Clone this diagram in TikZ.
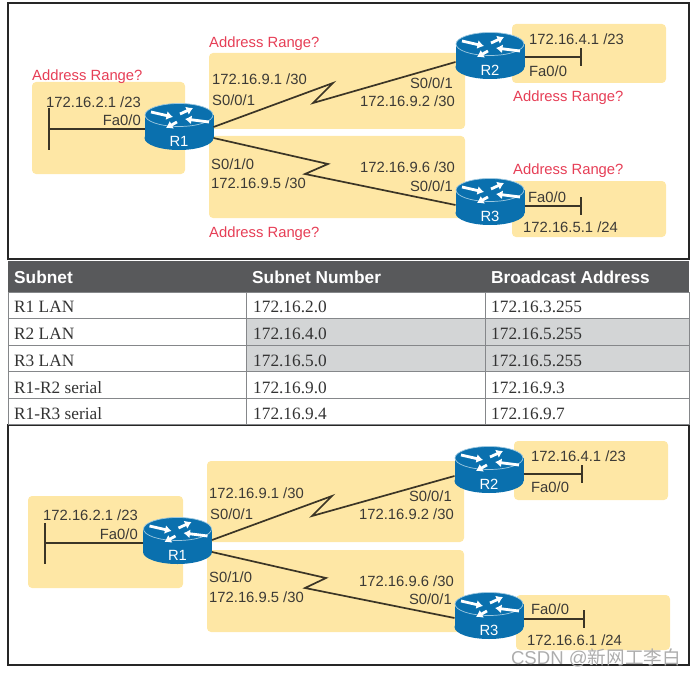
\documentclass[tikz,border=0pt]{standalone}
\usepackage{fontspec}
\setmainfont{Liberation Serif}
\setsansfont{Liberation Sans}
\newfontfamily\cjkfont{Noto Sans CJK SC}
\usepackage{xcolor}
\usepackage{tikz}
\usetikzlibrary{positioning}
\usetikzlibrary{arrows.meta}
\definecolor{panelyellow}{HTML}{FEE7A5}
\definecolor{routerblue}{HTML}{0A70AE}
\definecolor{rimblue}{HTML}{9CC8E0}
\definecolor{rangered}{HTML}{E63E56}
\definecolor{labeltext}{HTML}{3C3A36}
\definecolor{wirecolor}{HTML}{3B3526}
\definecolor{headgray}{HTML}{58595B}
\definecolor{rowgray}{HTML}{D3D5D6}
\definecolor{rulegray}{HTML}{85878A}
\tikzstyle{panel} = [fill=panelyellow, rounded corners=4pt]
\tikzstyle{frame} = [draw=black!85, line width=1.2pt]
\tikzstyle{link} = [draw=wirecolor, line width=1.7pt]
\tikzstyle{rbox} = [rectangle, minimum width=69pt, minimum height=47pt, inner sep=0pt, outer sep=0pt]
\tikzstyle{rlabel} = [text=white, inner sep=0pt, font=\sffamily\fontsize{14.8}{17}\selectfont]
\tikzstyle{rarrow} = [white, line width=2.8pt, -{Latex[length=6.5pt,width=9pt]}]
\tikzstyle{lanbar} = [rectangle, fill=wirecolor, inner sep=0pt, outer sep=0pt, minimum width=1.8pt]
\tikzstyle{lbl} = [anchor=west, inner sep=0pt, text=labeltext, font=\sffamily\fontsize{14.8}{17}\selectfont]
\tikzstyle{lblr} = [lbl, anchor=east]
\tikzstyle{rangelbl} = [lbl, text=rangered, yshift=-1.5pt]
\tikzstyle{head} = [anchor=west, inner sep=0pt, text=white, font=\sffamily\bfseries\fontsize{17.3}{20}\selectfont]
\tikzstyle{cell} = [anchor=west, inner sep=0pt, text=black!80, yshift=-1pt, font=\rmfamily\fontsize{17.3}{20}\selectfont]
\tikzset{pics/router/.style={code={
    \fill [routerblue] (0,11) ellipse [x radius=34.5, y radius=12];
    \fill [routerblue] (-34.5,-12) rectangle (34.5,11);
    \filldraw [fill=routerblue, draw=rimblue, line width=0.7pt] (0,-12) ellipse [x radius=34, y radius=11.5];
    \draw [rarrow] (-28,-15) -- (-6,-10);
    \draw [rarrow] (1,-13) -- (14,-19);
    \draw [rarrow] (30,-5) -- (6,-8);
    \draw [rarrow] (-2,-5) -- (-13,1);
    \node [rbox] (-box) {};
    \node [rlabel] (-name) at (0,14) {#1};
}}}

\begin{document}
\begin{tikzpicture}[x=1pt, y=-1pt]
    \useasboundingbox (0,0) rectangle (696,674);

    % frames
    \draw [frame] (8,3) rectangle (689,259);
    \draw [frame] (8,425) rectangle (689,665);

    % upper panels
    \fill [panel] (32,82) rectangle (185,174);
    \fill [panel] (209,53) rectangle (465,129);
    \fill [panel] (209,136) rectangle (465,218);
    \fill [panel] (512,24) rectangle (666,83);
    \fill [panel] (512,181) rectangle (666,237);

    % upper routers
    \pic (ua) at (179,127) {router=R1};
    \pic (ub) at (490,56) {router=R2};
    \pic (uc) at (490,202) {router=R3};

    % upper nodes
    \node [lanbar, minimum height=42pt] (uabar) at (49,129) {};
    \node [lanbar, minimum height=18pt] (ubbar) at (581,57) {};
    \node [lanbar, minimum height=18pt] (ucbar) at (581,206) {};
    \coordinate (uz1) at (333,83);
    \coordinate (uz2) at (313,103);
    \coordinate (uz3) at (328,164);
    \coordinate (uz4) at (305,174);

    % upper edges
    \draw [link] ([yshift=-2pt]ua-box.west) -- (uabar);
    \draw [link] ([yshift=-1pt]ub-box.east) -- (ubbar);
    \draw [link] ([yshift=-4pt]uc-box.east) -- (ucbar);
    \draw [link] (ua-box.east) -- (uz1) -- (uz2) -- ([yshift=-6pt]ub-box.west);
    \draw [link] ([yshift=-11pt]ua-box.east) -- (uz3) -- (uz4) -- ([yshift=-3pt]uc-box.west);

    % upper labels
    \node [rangelbl] (ur1) at (32,75) {Address Range?};
    \node [rangelbl] (ur2) at (209,42) {Address Range?};
    \node [rangelbl] (ur3) at (209,232) {Address Range?};
    \node [rangelbl] (ur4) at (513,96) {Address Range?};
    \node [rangelbl] (ur5) at (513,169) {Address Range?};
    \node [lbl] (uip1) at (46,102) {172.16.2.1 /23};
    \node [lblr] (ufa1) at (141,120) {Fa0/0};
    \node [lbl] (uip2) at (212,79) {172.16.9.1 /30};
    \node [lbl] (us1) at (212,100) {S0/0/1};
    \node [lbl] (us2) at (211,164) {S0/1/0};
    \node [lbl] (uip3) at (211,183) {172.16.9.5 /30};
    \node [lblr] (us3) at (453,83) {S0/0/1};
    \node [lblr] (uip4) at (455,101) {172.16.9.2 /30};
    \node [lblr] (uip5) at (455,167) {172.16.9.6 /30};
    \node [lblr] (us4) at (453,186) {S0/0/1};
    \node [lbl] (uip6) at (529,39) {172.16.4.1 /23};
    \node [lbl] (ufa2) at (529,71) {Fa0/0};
    \node [lbl] (ufa3) at (528,197) {Fa0/0};
    \node [lbl] (uip7) at (523,227) {172.16.5.1 /24};

    % table
    \fill [headgray] (8,261) rectangle (689,292);
    \fill [rowgray] (246,319) rectangle (689,371);
    \draw [black!85, line width=1.2pt] (8,259.5) -- (689,259.5);
    \draw [rulegray, line width=0.9pt] (8,292) rectangle (689,424);
    \draw [rulegray, line width=0.9pt] (8,318.5) -- (689,318.5);
    \draw [rulegray, line width=0.9pt] (8,345) -- (689,345);
    \draw [rulegray, line width=0.9pt] (8,371.5) -- (689,371.5);
    \draw [rulegray, line width=0.9pt] (8,398) -- (689,398);
    \draw [rulegray, line width=0.9pt] (246,292) -- (246,424);
    \draw [rulegray, line width=0.9pt] (485,292) -- (485,424);

    \node [head] (h1) at (14,277) {Subnet};
    \node [head] (h2) at (252,277) {Subnet Number};
    \node [head] (h3) at (491,277) {Broadcast Address};
    \node [cell] (a1) at (14,306) {R1 LAN};
    \node [cell] (b1) at (253,306) {172.16.2.0};
    \node [cell] (c1) at (491,306) {172.16.3.255};
    \node [cell] (a2) at (14,333) {R2 LAN};
    \node [cell] (b2) at (253,333) {172.16.4.0};
    \node [cell] (c2) at (491,333) {172.16.5.255};
    \node [cell] (a3) at (14,360) {R3 LAN};
    \node [cell] (b3) at (253,360) {172.16.5.0};
    \node [cell] (c3) at (491,360) {172.16.5.255};
    \node [cell] (a4) at (14,387) {R1-R2 serial};
    \node [cell] (b4) at (253,387) {172.16.9.0};
    \node [cell] (c4) at (491,387) {172.16.9.3};
    \node [cell] (a5) at (14,413) {R1-R3 serial};
    \node [cell] (b5) at (253,413) {172.16.9.4};
    \node [cell] (c5) at (491,413) {172.16.9.7};

    % lower panels
    \fill [panel] (28,496) rectangle (183,588);
    \fill [panel] (207,461) rectangle (464,542);
    \fill [panel] (207,550) rectangle (464,632);
    \fill [panel] (514,441) rectangle (668,500);
    \fill [panel] (516,595) rectangle (670,650);

    % lower routers
    \pic (la) at (177.5,541) {router=R1};
    \pic (lb) at (489,470) {router=R2};
    \pic (lc) at (489,616) {router=R3};

    % lower nodes
    \node [lanbar, minimum height=41pt] (labar) at (45,543) {};
    \node [lanbar, minimum height=18pt] (lbbar) at (582,474) {};
    \node [lanbar, minimum height=18pt] (lcbar) at (584,619) {};
    \coordinate (lz1) at (332,496);
    \coordinate (lz2) at (312,516);
    \coordinate (lz3) at (326,578);
    \coordinate (lz4) at (305,588);

    % lower edges
    \draw [link] ([yshift=-2pt]la-box.west) -- (labar);
    \draw [link] ([yshift=-4pt]lb-box.east) -- (lbbar);
    \draw [link] ([yshift=-3pt]lc-box.east) -- (lcbar);
    \draw [link] ([yshift=1pt]la-box.east) -- (lz1) -- (lz2) -- ([yshift=-6pt]lb-box.west);
    \draw [link] ([yshift=-11pt]la-box.east) -- (lz3) -- (lz4) -- ([yshift=-2pt]lc-box.west);

    % lower labels
    \node [lbl] (lip1) at (43,515) {172.16.2.1 /23};
    \node [lblr] (lfa1) at (138,534) {Fa0/0};
    \node [lbl] (lip2) at (209,493) {172.16.9.1 /30};
    \node [lbl] (ls1) at (210,514) {S0/0/1};
    \node [lbl] (ls2) at (209,577) {S0/1/0};
    \node [lbl] (lip3) at (209,597) {172.16.9.5 /30};
    \node [lblr] (ls3) at (452,496) {S0/0/1};
    \node [lblr] (lip4) at (454,514) {172.16.9.2 /30};
    \node [lblr] (lip5) at (454,581) {172.16.9.6 /30};
    \node [lblr] (ls4) at (452,599) {S0/0/1};
    \node [lbl] (lip6) at (531,456) {172.16.4.1 /23};
    \node [lbl] (lfa2) at (531,487) {Fa0/0};
    \node [lbl] (lfa3) at (531,609) {Fa0/0};
    \node [lbl] (lip7) at (527,640) {172.16.6.1 /24};

    % watermark
    \node [anchor=east, inner sep=0pt, text=black!32, font=\sffamily\fontsize{18.6}{21}\selectfont] (mark) at (681,658) {CSDN @{\cjkfont 新网工李白}};
\end{tikzpicture}
\end{document}
